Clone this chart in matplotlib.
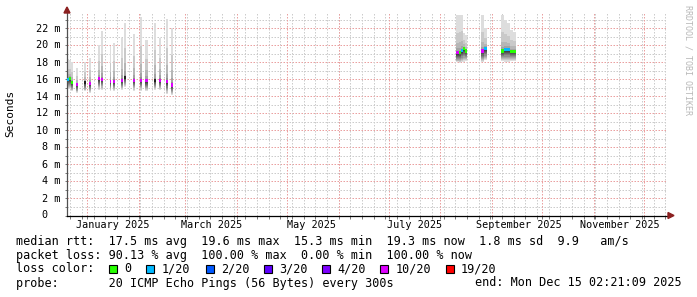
import matplotlib
matplotlib.use('Agg')
import matplotlib.pyplot as plt
import matplotlib.dates as mdates
from matplotlib.patches import Polygon, Rectangle
import numpy as np
import pandas as pd

W, H = 697, 297

# smokeping columns (one consolidated step each)
# start time, width in days, min / max / median rtt in ms, lost pings out of 20 (-1 = dark median)
col_start = ['2024-12-20 06:00', '2024-12-21 11:00', '2024-12-22 16:00', '2024-12-25 10:00',
             '2024-12-30 12:00', '2025-01-02 12:00', '2025-01-07 10:00', '2025-01-09 05:00',
             '2025-01-14 19:00', '2025-01-16 19:00', '2025-01-21 05:00', '2025-01-23 05:00',
             '2025-01-28 10:00', '2025-02-01 19:00', '2025-02-05 00:00', '2025-02-10 05:00',
             '2025-02-13 05:00', '2025-02-17 05:00', '2025-02-20 05:00',
             '2025-08-10 14:00', '2025-08-12 02:00', '2025-08-13 07:00', '2025-08-14 12:00',
             '2025-08-15 17:00', '2025-08-25 17:00', '2025-08-27 03:00', '2025-09-06 07:00',
             '2025-09-08 02:00', '2025-09-09 22:00', '2025-09-11 17:00', '2025-09-13 12:00']
col_days = [1.2, 1.2, 1.2, 1.2, 1.0, 1.0, 1.4, 1.5, 1.0, 1.4, 1.2, 1.2, 1.4, 1.6, 1.4, 1.0,
            1.2, 1.2, 1.2,
            1.5, 1.2, 1.2, 1.2, 1.5, 1.4, 1.8, 1.8, 1.8, 1.8, 1.8, 2.0]
col_lo = [14.9, 14.9, 14.6, 14.4, 14.6, 14.4, 14.8, 14.8, 14.6, 14.6, 14.8, 15.1, 14.7, 14.7,
          14.7, 14.8, 14.8, 14.3, 14.2,
          18.0, 17.9, 18.0, 18.1, 18.2, 18.0, 18.3, 18.2, 18.1, 18.1, 18.2, 18.2]
col_hi = [18.4, 18.3, 18.0, 17.4, 18.0, 18.5, 20.1, 21.7, 19.9, 20.3, 20.9, 22.7, 21.3, 23.4,
          20.6, 22.7, 20.9, 23.1, 22.0,
          23.6, 23.6, 23.6, 21.5, 21.2, 23.6, 22.0, 23.6, 23.0, 22.6, 21.8, 21.6]
col_med = [16.0, 16.1, 15.7, 15.4, 15.7, 15.55, 16.1, 16.05, 15.8, 15.8, 15.9, 16.25, 15.9,
           15.9, 15.85, 15.9, 15.9, 15.8, 15.35,
           19.15, 19.2, 19.45, 19.65, 19.35, 19.35, 19.6, 19.35, 19.55, 19.55, 19.3, 19.3]
col_loss = [1, 0, 0, 10, -1, 10, 10, 10, 10, 10, 10, -1, 10, 10, 10, -1, 10, 10, 10,
            10, 0, 1, 0, 0, 10, 1, 0, 1, 1, 0, 0]

loss_levels = [0, 1, 2, 3, 4, 10, 19]
loss_labels = ['0', '1/20', '2/20', '3/20', '4/20', '10/20', '19/20']
loss_colors = ['#26ff00', '#00b8ff', '#0059ff', '#5e00ff', '#7e00ff', '#dd00ff', '#ff0000']

y_ticks = [0, 2, 4, 6, 8, 10, 12, 14, 16, 18, 20, 22]
month_labels = ['January 2025', 'March 2025', 'May 2025', 'July 2025',
                'September 2025', 'November 2025']
month_label_at = ['2025-01-16 12:00', '2025-03-17', '2025-05-16', '2025-07-16 12:00',
                  '2025-09-17', '2025-11-17']

rtt_line = 'median rtt:  17.5 ms avg  19.6 ms max  15.3 ms min  19.3 ms now  1.8 ms sd  9.9   am/s'
loss_line = 'packet loss: 90.13 % avg  100.00 % max  0.00 % min  100.00 % now'
probe_line = 'probe:       20 ICMP Echo Pings (56 Bytes) every 300s'
end_text = 'end: Mon Dec 15 02:21:09 2025'

end = pd.Timestamp('2025-12-15 02:21:09')
start = end - pd.Timedelta(days=360)
YMAX = 23.82

MONO = 'DejaVu Sans Mono'
MGRID = '#eaa0a0'
GRID = '#cccccc'
ARROW = '#8b2020'


def px(x, y):
    # pixel position -> figure fraction
    return x / W, 1 - y / H


fig = plt.figure(figsize=(W / 100, H / 100), dpi=100)
fig.patch.set_facecolor('white')
ax = fig.add_axes([67 / W, (H - 215.5) / H, 600 / W, (215.5 - 13) / H])
ax.set_xlim(mdates.date2num(start), mdates.date2num(end))
ax.set_ylim(0, YMAX)

# grid (dotted, 1px on / 1px off)
dots = (0, (1.5, 1.5))
for v in np.arange(1, 24, 2):
    ax.axhline(v, color=GRID, lw=0.72, ls=dots, zorder=1)
for v in y_ticks[1:]:
    ax.axhline(v, color=MGRID, lw=0.72, ls=dots, zorder=1)
for d in pd.date_range(start, end, freq='W-SUN'):
    ax.axvline(mdates.date2num(d), color=GRID, lw=0.72, ls=dots, zorder=1)
for d in pd.date_range(start, end, freq='MS'):
    ax.axvline(mdates.date2num(d), color=MGRID, lw=0.72, ls=dots, zorder=1)

# smoke: 10 layers, light outside, dark near the median
x0 = mdates.date2num(pd.to_datetime(col_start))
days = np.array(col_days)
lo = np.array(col_lo)
hi = np.array(col_hi)
med = np.array(col_med)
for k in range(10):
    f = 1 - k / 10
    lower = med - (med - lo) * f
    upper = med + (hi - med) * f ** 6
    g = int(0xdd - k * (0xdd - 0x30) / 9)
    ax.bar(x0, upper - lower, width=days, bottom=lower, align='edge',
           color='#%02x%02x%02x' % (g, g, g), linewidth=0, zorder=2)

# median marks coloured by loss
loss = np.array(col_loss)
for lv, c in list(zip(loss_levels, loss_colors)) + [(-1, '#202020')]:
    m = loss == lv
    if m.any():
        ax.bar(x0[m], 0.36, width=days[m], bottom=med[m] - 0.18, align='edge',
               color=c, linewidth=0, zorder=3)

# axes look
for s in ['top', 'right']:
    ax.spines[s].set_visible(False)
ax.spines['left'].set_color('#505050')
ax.spines['bottom'].set_color('black')
ax.spines['left'].set_linewidth(0.9)
ax.spines['bottom'].set_linewidth(0.9)
ax.set_yticks(y_ticks)
ax.set_yticks(np.arange(1, 24, 2), minor=True)
ax.set_xticks(mdates.date2num(pd.date_range(start, end, freq='MS')))
ax.set_xticks(mdates.date2num(pd.date_range(start, end, freq='W-SUN')), minor=True)
ax.tick_params(which='both', length=1.8, width=0.6, color='#606060',
               labelleft=False, labelbottom=False)

fig.add_artist(Polygon([px(67, 7), px(64, 13), px(70, 13)], closed=True,
                       transform=fig.transFigure, color=ARROW))
fig.add_artist(Polygon([px(674, 215.5), px(668, 212.5), px(668, 218.5)], closed=True,
                       transform=fig.transFigure, color=ARROW))

# axis labels
for v in y_ticks:
    yy = 215.5 - v * 8.5
    if v == 0:
        fig.text(*px(47.8, yy), '0', ha='right', va='center', family=MONO, fontsize=7.3)
    else:
        fig.text(*px(60, yy), '%d m' % v, ha='right', va='center', family=MONO, fontsize=7.3)
lab_y = -(225 - 215.5) / (215.5 - 13)
for lab, at in zip(month_labels, month_label_at):
    ax.text(mdates.date2num(pd.Timestamp(at)), lab_y, lab, ha='center', va='center',
            family=MONO, fontsize=7.3, transform=ax.get_xaxis_transform())

fig.text(*px(10.5, 113.5), 'Seconds', rotation=90, ha='center', va='center',
         family=MONO, fontsize=8)
fig.text(*px(688, 5), 'RRDTOOL / TOBI OETIKER', rotation=270, ha='center', va='top',
         family=MONO, fontsize=6, color='#b8b8b8')

# legend
fs = 8.5
fig.text(*px(16, 241), rtt_line, ha='left', va='center', family=MONO, fontsize=fs)
fig.text(*px(16, 255), loss_line, ha='left', va='center', family=MONO, fontsize=fs)
fig.text(*px(16, 269), 'loss color:', ha='left', va='center', family=MONO, fontsize=fs)
box_x = [108.6, 146, 205.5, 263.6, 321.7, 380, 445.5]
for bx, lab, c in zip(box_x, loss_labels, loss_colors):
    fig.add_artist(Rectangle(px(bx, 273), 8 / W, 8 / H, transform=fig.transFigure,
                             facecolor=c, edgecolor='black', linewidth=0.8))
    fig.text(*px(bx + 15.5, 269), lab, ha='left', va='center', family=MONO, fontsize=fs)
fig.text(*px(16, 283), probe_line, ha='left', va='center', family=MONO, fontsize=fs)
fig.text(*px(682, 283), end_text, ha='right', va='center', family=MONO, fontsize=fs)

fig.savefig('out.png', dpi=100, facecolor='white')
